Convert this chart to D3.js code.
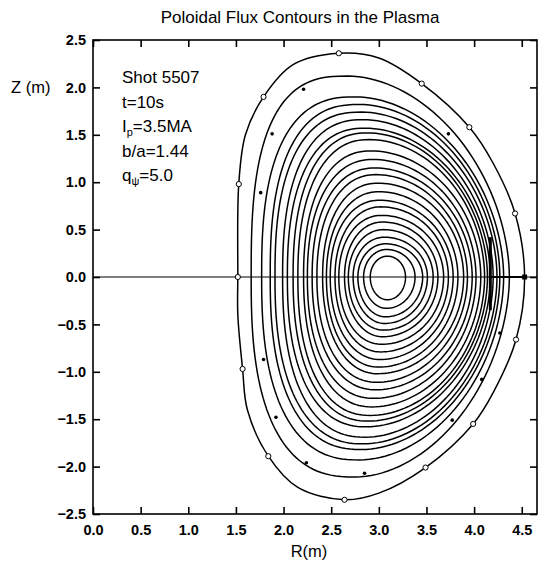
<!DOCTYPE html>
<html><head><meta charset="utf-8">
<script src="https://cdn.jsdelivr.net/npm/d3@7"></script>
<style>
body{margin:0;background:#fff;}
svg text{font-family:"Liberation Sans",Arial,Helvetica,sans-serif;fill:#000;}
</style></head>
<body><svg id="c" width="548" height="565"></svg>
<script>
// ---------- data ----------
const title = "Poloidal Flux Contours in the Plasma";
const xTicks = [0.0,0.5,1.0,1.5,2.0,2.5,3.0,3.5,4.0,4.5];
const yTicks = [2.5,2.0,1.5,1.0,0.5,0.0,-0.5,-1.0,-1.5,-2.0,-2.5];
const infoLines = ["Shot 5507","t=10s","Ip=3.5MA","b/a=1.44","qψ=5.0"];

// outermost boundary (R,Z) points, clockwise from inboard midplane
const boundaryR = [1.52,1.53,1.60,1.79,2.10,2.58,3.00,3.45,3.95,4.20,4.43,4.53,4.44,4.20,3.99,3.49,3.00,2.64,2.15,1.84,1.62,1.57,1.52];
const boundaryZ = [0.00,0.98,1.50,1.90,2.24,2.36,2.31,2.04,1.58,1.20,0.67,0.00,-0.66,-1.22,-1.55,-2.01,-2.28,-2.35,-2.22,-1.89,-1.40,-0.97,-0.40];
// open circle markers on the boundary
const circleR = [1.52,1.53,1.79,2.58,3.45,3.95,4.43,4.44,3.99,3.49,2.64,1.84,1.57];
const circleZ = [0.00,0.98,1.90,2.36,2.04,1.58,0.67,-0.66,-1.55,-2.01,-2.35,-1.89,-0.97];
// small filled markers
const dotR = [2.21,3.73,1.88,1.76,4.27,4.08,3.77,2.85,2.24,1.92,1.79];
const dotZ = [1.98,1.51,1.51,0.89,-0.59,-1.08,-1.51,-2.07,-1.96,-1.48,-0.87];

// nested flux contours, inner -> outer
const cRin  = [2.91,2.84,2.78,2.73,2.68,2.64,2.58,2.54,2.49,2.45,2.41,2.35,2.30,2.25,2.21,2.15,2.10,2.04,1.99,1.91,1.86,1.77,1.66];
const cRout = [3.28,3.38,3.46,3.51,3.57,3.62,3.68,3.73,3.78,3.83,3.89,3.93,3.98,4.02,4.07,4.11,4.14,4.17,4.20,4.24,4.27,4.31,4.37];
const cZtop = [0.22,0.29,0.35,0.42,0.50,0.58,0.65,0.74,0.81,0.90,0.99,1.08,1.15,1.24,1.33,1.45,1.52,1.57,1.66,1.74,1.82,1.90,2.12];
const cZbot = [-0.24,-0.33,-0.42,-0.49,-0.56,-0.63,-0.71,-0.79,-0.87,-0.95,-1.02,-1.11,-1.19,-1.28,-1.37,-1.46,-1.52,-1.58,-1.69,-1.76,-1.82,-1.93,-2.11];
const cRtop = [3.09,3.08,3.07,3.06,3.05,3.04,3.03,3.02,3.01,3.00,2.99,2.97,2.96,2.94,2.92,2.90,2.88,2.86,2.84,2.82,2.80,2.76,2.68];
const cRbot = [3.09,3.08,3.07,3.06,3.05,3.04,3.03,3.02,3.01,3.00,2.99,2.98,2.97,2.95,2.93,2.91,2.89,2.87,2.86,2.84,2.82,2.80,2.76];
// quadrant squareness (UL, UR, LL, LR)
const cSqUL = [2.0,2.0,2.0,2.05,2.05,2.1,2.1,2.1,2.15,2.15,2.2,2.2,2.25,2.25,2.3,2.3,2.35,2.4,2.45,2.5,2.55,2.6,2.8];
const cSqUR = [2.0,2.0,2.0,2.0,2.0,2.0,2.0,2.0,1.98,1.98,1.97,1.96,1.95,1.95,1.94,1.93,1.92,1.92,1.91,1.9,1.9,1.88,1.85];
const cSqLL = [2.0,2.0,2.0,2.0,2.05,2.05,2.1,2.1,2.1,2.15,2.15,2.2,2.2,2.25,2.25,2.3,2.3,2.35,2.4,2.4,2.45,2.5,2.6];
const cSqLR = cSqUR;

// limiter
const limR = [4.17,4.17];
const limZ = [0.42,-0.35];
const midR = [4.17,4.53];

// ---------- drawing ----------
const svg = d3.select("#c");
const x = d3.scaleLinear().domain([0,4.66]).range([93,537]);
const y = d3.scaleLinear().domain([-2.5,2.5]).range([514,40]);
const fmt = d3.format(".1f");

svg.append("text").attr("x",300).attr("y",23).attr("text-anchor","middle")
  .style("font-size","17px").text(title);

// frame
svg.append("rect").attr("x",x(0)).attr("y",y(2.5)).attr("width",x(4.66)-x(0)).attr("height",y(-2.5)-y(2.5))
  .attr("fill","none").attr("stroke","#000").attr("stroke-width",1.6);

const axB = svg.append("g").attr("transform",`translate(0,${y(-2.5)})`)
  .call(d3.axisBottom(x).tickValues(xTicks).tickFormat(fmt).tickSizeInner(-7).tickSizeOuter(0).tickPadding(11));
const axT = svg.append("g").attr("transform",`translate(0,${y(2.5)})`)
  .call(d3.axisTop(x).tickValues(xTicks).tickFormat("").tickSizeInner(-7).tickSizeOuter(0));
const axL = svg.append("g").attr("transform",`translate(${x(0)},0)`)
  .call(d3.axisLeft(y).tickValues(yTicks).tickFormat(fmt).tickSizeInner(-7).tickSizeOuter(0).tickPadding(7));
const axR = svg.append("g").attr("transform",`translate(${x(4.66)},0)`)
  .call(d3.axisRight(y).tickValues(yTicks).tickFormat("").tickSizeInner(-7).tickSizeOuter(0));
[axB,axT,axL,axR].forEach(a=>{
  a.select(".domain").remove();
  a.selectAll("line").attr("stroke","#000").attr("stroke-width",1.6);
  a.selectAll("text").style("font-size","14.5px").style("font-weight","bold").attr("fill","#000");
});

svg.append("text").attr("x",11).attr("y",y(2.0)+6).style("font-size","16.5px").text("Z (m)");
svg.append("text").attr("x",309).attr("y",557).attr("text-anchor","middle").style("font-size","16.5px").text("R(m)");

// midplane line
svg.append("line").attr("x1",x(0)).attr("x2",x(4.66)).attr("y1",y(0)).attr("y2",y(0))
  .attr("stroke","#000").attr("stroke-width",1.2);

const line = d3.line().x(d=>x(d[0])).y(d=>y(d[1]));
const g = svg.append("g");

// nested contours from read extents, quadrants: UR, UL, LL, LR
function orderedPts(i){
  const n=40, out=[];
  const e=p=>2/p;
  for(let j=0;j<n;j++){const t=j/n*Math.PI/2,c=Math.cos(t),s=Math.sin(t),k=e(cSqUR[i]);
    out.push([cRtop[i]+(cRout[i]-cRtop[i])*Math.pow(c,k), cZtop[i]*Math.pow(s,k)]);}
  for(let j=0;j<n;j++){const t=j/n*Math.PI/2,c=Math.cos(t),s=Math.sin(t),k=e(cSqUL[i]);
    out.push([cRtop[i]-(cRtop[i]-cRin[i])*Math.pow(s,k), cZtop[i]*Math.pow(c,k)]);}
  for(let j=0;j<n;j++){const t=j/n*Math.PI/2,c=Math.cos(t),s=Math.sin(t),k=e(cSqLL[i]);
    out.push([cRbot[i]-(cRbot[i]-cRin[i])*Math.pow(c,k), cZbot[i]*Math.pow(s,k)]);}
  for(let j=0;j<n;j++){const t=j/n*Math.PI/2,c=Math.cos(t),s=Math.sin(t),k=e(cSqLR[i]);
    out.push([cRbot[i]+(cRout[i]-cRbot[i])*Math.pow(s,k), cZbot[i]*Math.pow(c,k)]);}
  return out;
}
g.selectAll("path.ct").data(cRin.map((_,i)=>orderedPts(i))).join("path").attr("class","ct")
  .attr("d",d=>line.curve(d3.curveLinearClosed)(d))
  .attr("fill","none").attr("stroke","#000").attr("stroke-width",1.5);

// outer boundary
const bPts = boundaryR.map((r,i)=>[r,boundaryZ[i]]);
g.append("path").attr("d",d3.line().x(d=>x(d[0])).y(d=>y(d[1])).curve(d3.curveCatmullRomClosed.alpha(0.5))(bPts))
  .attr("fill","none").attr("stroke","#000").attr("stroke-width",1.5);

// limiter
svg.append("line").attr("x1",x(limR[0])).attr("x2",x(limR[1])).attr("y1",y(limZ[0])).attr("y2",y(limZ[1]))
  .attr("stroke","#000").attr("stroke-width",3);
svg.append("line").attr("x1",x(midR[0])).attr("x2",x(midR[1])).attr("y1",y(0)).attr("y2",y(0))
  .attr("stroke","#000").attr("stroke-width",2.2);
svg.append("rect").attr("x",x(4.53)-2.5).attr("y",y(0)-2.5).attr("width",5).attr("height",5).attr("fill","#000");

// markers
svg.selectAll("circle.o").data(circleR.map((r,i)=>[r,circleZ[i]])).join("circle").attr("class","o")
  .attr("cx",d=>x(d[0])).attr("cy",d=>y(d[1])).attr("r",2.6)
  .attr("fill","#fff").attr("stroke","#000").attr("stroke-width",1);
svg.selectAll("circle.f").data(dotR.map((r,i)=>[r,dotZ[i]])).join("circle").attr("class","f")
  .attr("cx",d=>x(d[0])).attr("cy",d=>y(d[1])).attr("r",1.8).attr("fill","#000");

// info text
const info = svg.append("g").style("font-size","17px");
const ix=122, iy0=83, dy=24.5;
info.append("text").attr("x",ix).attr("y",iy0).text(infoLines[0]);
info.append("text").attr("x",ix).attr("y",iy0+dy).text(infoLines[1]);
const t3=info.append("text").attr("x",ix).attr("y",iy0+2*dy);
t3.append("tspan").text("I");
t3.append("tspan").attr("dy",4).style("font-size","11px").text("p");
t3.append("tspan").attr("dy",-4).text("=3.5MA");
info.append("text").attr("x",ix).attr("y",iy0+3*dy).text(infoLines[3]);
const t5=info.append("text").attr("x",ix).attr("y",iy0+4*dy);
t5.append("tspan").text("q");
t5.append("tspan").attr("dy",4).style("font-size","11px").text("ψ");
t5.append("tspan").attr("dy",-4).text("=5.0");
</script></body></html>
